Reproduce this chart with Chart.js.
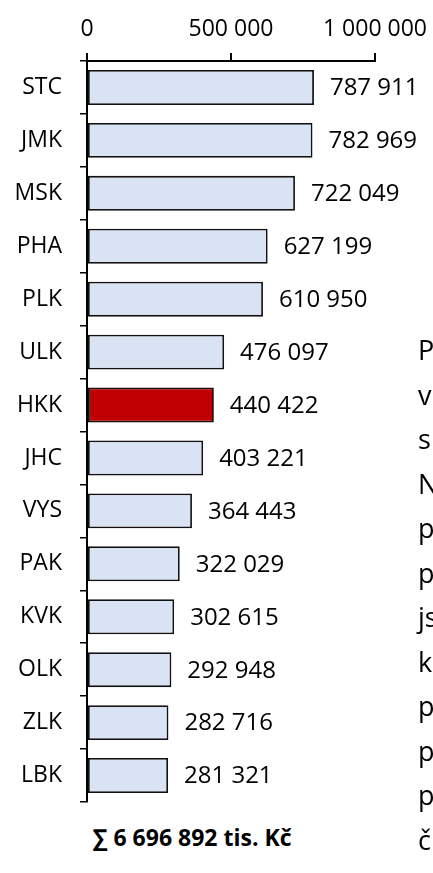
<!DOCTYPE html>
<html>
<head>
<meta charset="utf-8">
<script src="https://cdn.jsdelivr.net/npm/chart.js@4"></script>
<style>
  html, body { margin: 0; padding: 0; background: #fff; overflow: hidden; }
  body { width: 433px; height: 873px; position: relative; }
  #wrap { position: absolute; left: 0; top: 0; width: 433px; height: 806px; }
  #sum { position: absolute; left: 93px; top: 821px; font: bold 23px "Open Sans", sans-serif; color: #000; white-space: nowrap; }
  #side { position: absolute; left: 418px; top: 328px; font: 27px "Open Sans", sans-serif; line-height: 44.5px; color: #000; white-space: nowrap; }
</style>
</head>
<body>
<div id="wrap"><canvas id="myChart"></canvas></div>
<div id="sum">∑ 6 696 892 tis. Kč</div>
<div id="side">P<br>v<br>s<br>N<br>p<br>p<br>js<br>k<br>p<br>p<br>p<br>č</div>
<script>
// kraje
var labels = ["STC", "JMK", "MSK", "PHA", "PLK", "ULK", "HKK", "JHC", "VYS", "PAK", "KVK", "OLK", "ZLK", "LBK"];
var values = [787911, 782969, 722049, 627199, 610950, 476097, 440422, 403221, 364443, 322029, 302615, 292948, 282716, 281321];
var ticksX = [0, 500000, 1000000];
var highlight = "HKK";

function fmt(v) {
    return String(v).replace(/\B(?=(\d{3})+(?!\d))/g, " ");
}

var colors = labels.map(function (l) { return l == highlight ? "#C00000" : "#DAE3F3"; });

// popisky hodnot za sloupci
var valueLabels = {
    id: "valueLabels",
    afterDatasetsDraw: function (chart) {
        var ctx = chart.ctx;
        var meta = chart.getDatasetMeta(0);
        ctx.save();
        ctx.font = '24px "Open Sans"';
        ctx.fillStyle = "#000";
        ctx.textAlign = "left";
        ctx.textBaseline = "middle";
        meta.data.forEach(function (bar, i) {
            ctx.fillText(fmt(values[i]), bar.x + 16, bar.y + 1);
        });
        ctx.restore();
    }
};

function noPad(scale) {
    scale.paddingTop = 0;
    scale.paddingBottom = 0;
    scale.paddingLeft = 0;
    scale.paddingRight = 0;
}

new Chart(document.getElementById("myChart"), {
    type : 'bar',
    data : {
        labels: labels,
        datasets: [
            {
            data: values,
            backgroundColor: colors,
            borderColor: "#111",
            borderWidth: 1.8,
            borderSkipped: false,
            barPercentage: 0.66,
            categoryPercentage: 1,
            },
        ],
    },
    options : {
        indexAxis: 'y',
        responsive: true,
        maintainAspectRatio: false,
        animation: false,
        devicePixelRatio: 1,
        layout: { padding: { left: 0, right: 58, top: 0, bottom: 4 } },
        scales: {
            x: {
                position: 'top',
                min: 0,
                max: 1000000,
                afterBuildTicks: function (scale) {
                    scale.ticks = ticksX.map(function (v) { return { value: v }; });
                },
                afterFit: function (scale) { scale.height = 61; noPad(scale); },
                border: { color: "#000", width: 2 },
                grid: { drawOnChartArea: false, drawTicks: true, tickLength: 8, color: "#000", lineWidth: 2 },
                ticks: {
                    padding: 10,
                    maxRotation: 0,
                    color: "#000",
                    font: { family: "Open Sans", size: 23 },
                    callback: function (v) { return fmt(v); },
                },
            },
            y: {
                afterFit: function (scale) { scale.width = 87; noPad(scale); },
                border: { color: "#000", width: 2 },
                grid: { offset: true, drawOnChartArea: false, drawTicks: true, tickLength: 7, color: "#000", lineWidth: 1.5 },
                ticks: {
                    padding: 18,
                    color: "#000",
                    font: { family: "Open Sans", size: 23 },
                },
            },
        },
        hover: { mode: null },
        plugins: {
            legend: { display: false },
            tooltip: { enabled: false },
        },
    },
    plugins: [valueLabels],
});
</script>
</body>
</html>
